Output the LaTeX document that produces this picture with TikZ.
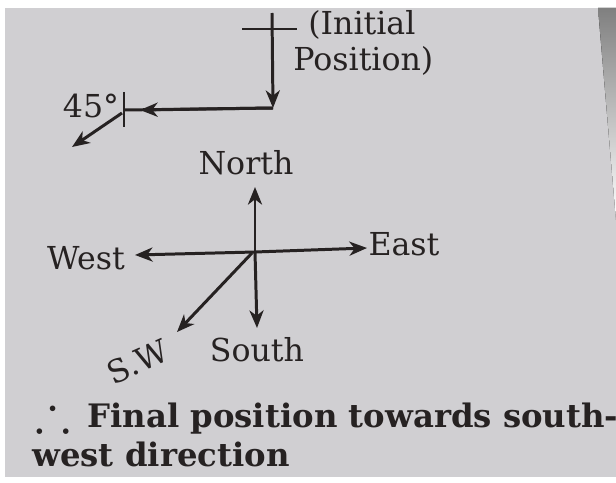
\documentclass[tikz,border=0pt]{standalone}
\usepackage{fontspec}
\setmainfont{DejaVu Serif}
\usepackage{amssymb}
\usetikzlibrary{arrows.meta}
\definecolor{paper}{RGB}{208,207,210}
\definecolor{shade}{RGB}{192,190,197}
\definecolor{ink}{RGB}{38,34,34}
\begin{document}
\begin{tikzpicture}[x=0.02cm,y=-0.02cm,
  ln/.style={draw=ink,line width=1.7pt},
  arr/.style={ln,-{Stealth[length=10pt,width=8pt,inset=3pt]}},
  lbl/.style={text=ink,font=\fontsize{18}{21}\selectfont,inner sep=0pt},
  txt/.style={text=ink,font=\bfseries\fontsize{18.4}{22}\selectfont,inner sep=0pt,anchor=base west}]
\useasboundingbox (0,0) rectangle (616,483);
\fill[white] (0,0) rectangle (616,483);
\fill[paper] (5,8) rectangle (616,477);
\fill[shade] (598,8) -- (616,8) -- (616,220) -- cycle;
% top path
\coordinate (top) at (272,13);
\coordinate (corner) at (273,108);
\coordinate (barL) at (242,29);
\coordinate (barR) at (297,29);
\coordinate (turn) at (124,110);
\coordinate (head) at (140,110);
\coordinate (tickT) at (124,92);
\coordinate (tickB) at (124,127);
\coordinate (swS) at (122,113);
\coordinate (swE) at (72,147);
\draw[ln] (barL) -- (barR);
\draw[arr] (top) -- (corner);
\draw[ln] (corner) -- (turn);
\draw[arr] (corner) -- (head);
\draw[ln] (tickT) -- (tickB);
\draw[arr] (swS) -- (swE);
\node[lbl,anchor=west] (ini) at (308,25) {(Initial};
\node[lbl,anchor=west] (pos) at (293,61) {Position)};
\node[lbl] (ang) at (91,106) {45°};
% compass
\coordinate (O) at (255,252);
\coordinate (Os) at (252,253);
\coordinate (N) at (255,187);
\coordinate (S) at (257,328);
\coordinate (W) at (135,255);
\coordinate (E) at (367,248);
\coordinate (SW) at (177,332);
\draw[arr] (O) -- (N);
\draw[arr] (O) -- (S);
\draw[arr] (O) -- (W);
\draw[arr] (O) -- (E);
\draw[arr] (Os) -- (SW);
\node[lbl] (north) at (246,163) {North};
\node[lbl] (east) at (404,244) {East};
\node[lbl] (west) at (86,258) {West};
\node[lbl] (south) at (257,350) {South};
\node[lbl,rotate=24] (sw) at (138,362) {S.W};
% conclusion
\node[text=ink,font=\fontsize{30}{30}\selectfont,inner sep=0pt,anchor=base west] (thf) at (35,430) {$\therefore$};
\node[txt] (l1) at (87,427) {Final position towards south-};
\node[txt] (l2) at (32,466) {west direction};
\end{tikzpicture}
\end{document}
